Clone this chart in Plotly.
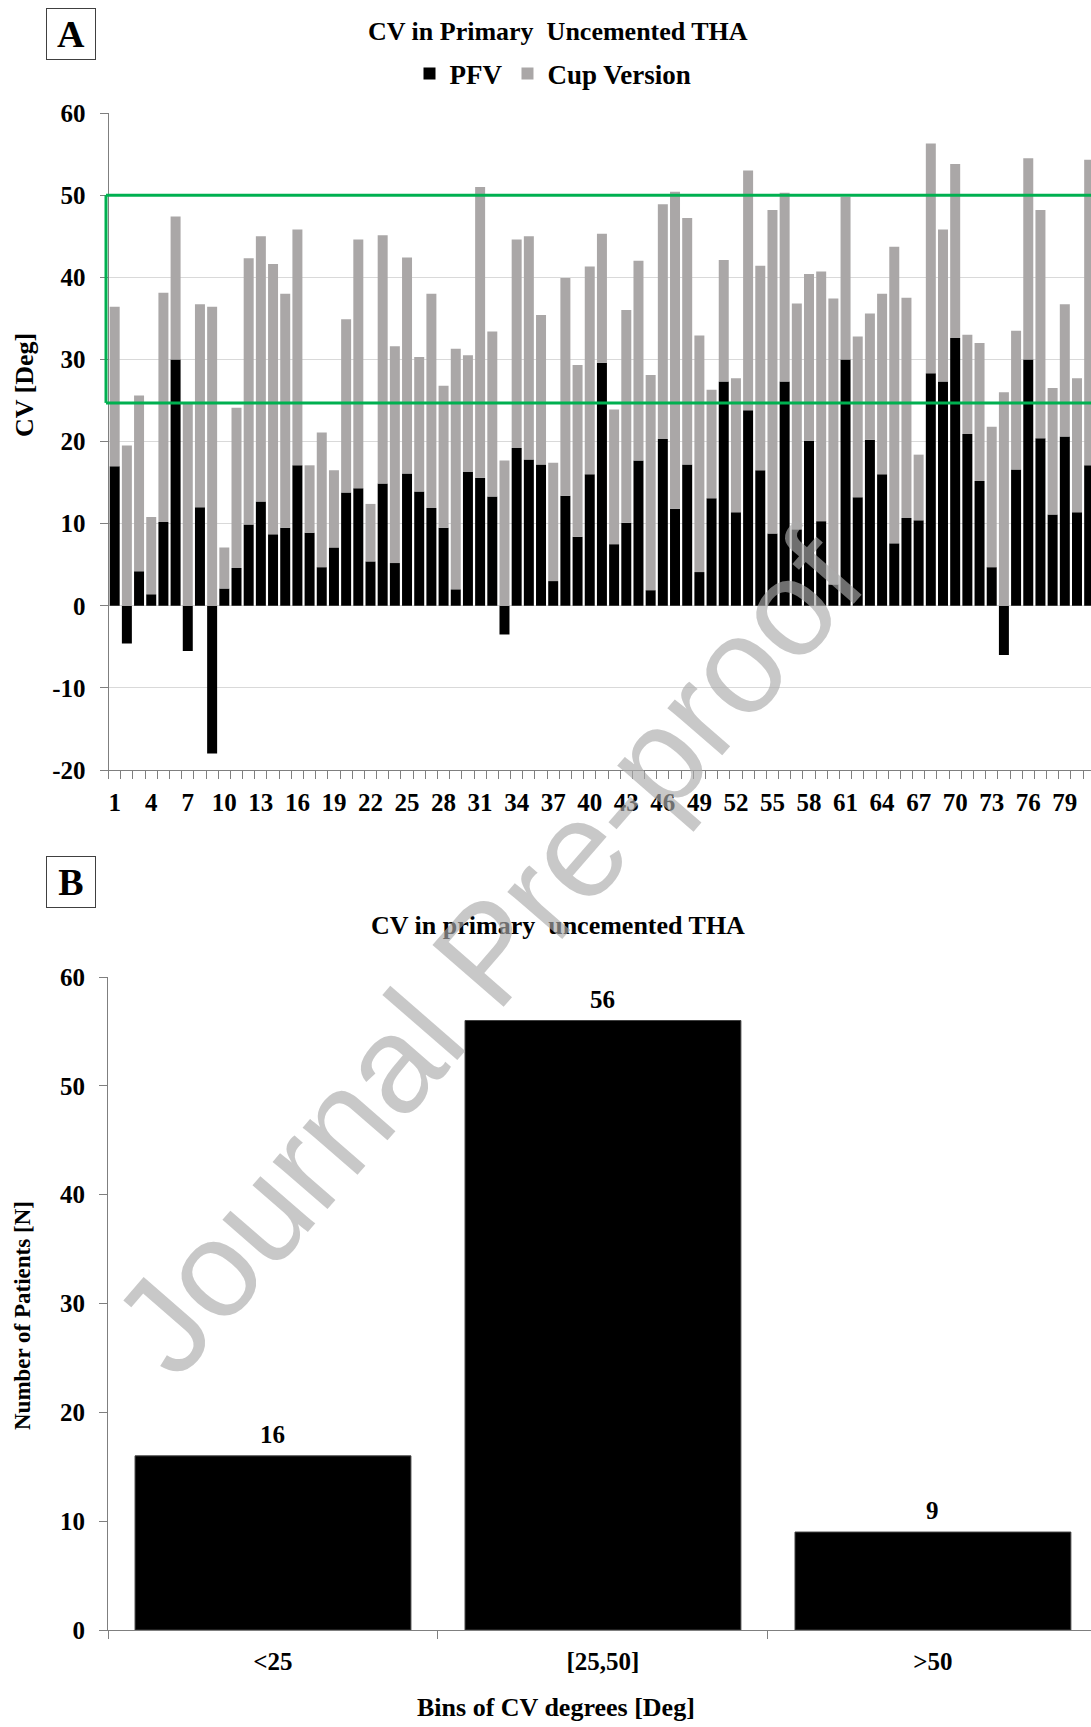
import plotly.graph_objects as go

# ---------------- data ----------------
patients = list(range(1, 82))
pfv = [17.0, -4.6, 4.2, 1.4, 10.2, 30.0, -5.5, 12.0, -18.0, 2.1,
       4.6, 9.9, 12.7, 8.7, 9.5, 17.1, 8.9, 4.7, 7.1, 13.8,
       14.3, 5.4, 14.9, 5.2, 16.1, 13.9, 11.9, 9.5, 2.0, 16.3,
       15.6, 13.3, -3.5, 19.2, 17.8, 17.2, 3.0, 13.4, 8.4, 16.0,
       29.6, 7.5, 10.1, 17.7, 1.9, 20.3, 11.8, 17.2, 4.1, 13.1,
       27.3, 11.4, 23.8, 16.5, 8.8, 27.3, 9.3, 20.1, 10.3, 2.6,
       30.0, 13.2, 20.2, 16.0, 7.6, 10.7, 10.4, 28.3, 27.3, 32.6,
       20.9, 15.2, 4.7, -6.0, 16.6, 30.0, 20.4, 11.1, 20.6, 11.4,
       17.1]
cup = [19.4, 19.5, 21.4, 9.4, 27.9, 17.4, 24.8, 24.7, 36.4, 5.0,
       19.5, 32.4, 32.3, 32.9, 28.5, 28.7, 8.2, 16.4, 9.4, 21.1,
       30.3, 7.0, 30.2, 26.4, 26.3, 16.4, 26.1, 17.3, 29.3, 14.2,
       35.4, 20.1, 17.7, 25.4, 27.2, 18.2, 14.4, 26.5, 20.9, 25.3,
       15.7, 16.4, 25.9, 24.3, 26.2, 28.6, 38.6, 30.0, 28.8, 13.2,
       14.8, 16.3, 29.2, 24.9, 39.4, 23.0, 27.5, 20.3, 30.4, 34.8,
       19.8, 19.6, 15.4, 22.0, 36.1, 26.8, 8.0, 28.0, 18.5, 21.2,
       12.1, 16.8, 17.1, 26.0, 16.9, 24.5, 27.8, 15.4, 16.1, 16.3,
       37.2]
x_tick_labels = list(range(1, 82, 3))
y_ticks_a = [-20, -10, 0, 10, 20, 30, 40, 50, 60]
y_ticks_a_text = ["-20", "-10", "0", "10", "20", "30", "40", "50", "60"]
target_low, target_high = 24.7, 50.0

bins = ["<25", "[25,50]", ">50"]
counts = [16, 56, 9]

# ---------------- layout helpers ----------------
W, H = 1091, 1727
def py(v):
    return 1 - v / H
def px(v):
    return v / W

SERIF = "Liberation Serif"
AXC = "#7f7f7f"
bold = dict(family=SERIF, color="black", weight="bold")
TICK = 25

fig = go.Figure()
fig.add_trace(go.Bar(x=patients, y=pfv, name="PFV",
                     marker=dict(color="#000000", line=dict(width=0)),
                     xaxis="x", yaxis="y"))
fig.add_trace(go.Bar(x=patients, y=cup, name="Cup Version",
                     marker=dict(color="#aaa7a7", line=dict(width=0)),
                     xaxis="x", yaxis="y"))
fig.add_trace(go.Bar(x=bins, y=counts,
                     width=0.836, showlegend=False,
                     marker=dict(color="#000000", line=dict(width=1, color="#404040")),
                     xaxis="x2", yaxis="y2"))

fig.update_layout(
    width=W, height=H,
    margin=dict(l=0, r=0, t=0, b=0, autoexpand=False),
    paper_bgcolor="white", plot_bgcolor="white",
    barmode="relative", bargap=0.18,
    font=dict(family=SERIF, size=24, color="black", weight="bold"),
    showlegend=True,
    legend=dict(orientation="h", x=px(553), xanchor="center", y=py(74), yanchor="middle",
                font=dict(size=27, **bold), traceorder="normal", itemwidth=30,
                bgcolor="rgba(0,0,0,0)"),
    xaxis=dict(domain=[px(108.6), 1], range=[0.5, 81.15], anchor="y", automargin=False,
               tickmode="array", tickvals=x_tick_labels, ticks="",
               showgrid=False, zeroline=False, showline=True, linecolor=AXC, linewidth=1,
               tickfont=dict(size=TICK, **bold), ticklabelstandoff=10,
               minor=dict(tickvals=[i + 0.5 for i in range(0, 82)], ticks="outside",
                          ticklen=8, tickcolor=AXC, tickwidth=1, showgrid=False)),
    yaxis=dict(domain=[py(770), py(113)], range=[-20, 60], anchor="x",
               tickmode="array", tickvals=y_ticks_a, ticktext=y_ticks_a_text,
               automargin=False,
               showgrid=True, gridcolor="#d9d9d9", gridwidth=1,
               zeroline=True, zerolinecolor="#d9d9d9", zerolinewidth=1,
               showline=True, linecolor=AXC, linewidth=1,
               ticks="outside", ticklen=8, tickcolor=AXC,
               tickfont=dict(size=TICK, **bold), ticklabelstandoff=9),
    xaxis2=dict(domain=[px(108), 1], type="category", range=[-0.5, 2.479], anchor="y2",
                automargin=False,
                ticks="outside", tickson="boundaries", ticklen=8, tickcolor=AXC,
                showgrid=False, showline=True, linecolor=AXC, linewidth=1,
                tickfont=dict(size=TICK, **bold), ticklabelstandoff=9),
    yaxis2=dict(domain=[py(1630), py(977)], range=[0, 60], dtick=10, anchor="x2",
                automargin=False,
                showgrid=False, zeroline=False, showline=True, linecolor=AXC, linewidth=1,
                ticks="outside", ticklen=8, tickcolor=AXC,
                tickfont=dict(size=TICK, **bold), ticklabelstandoff=9),
)

# green target band outline (25-50 deg)
GREEN = "#00b050"
for y0, y1, x0, x1 in [(target_low, target_low, px(106), 1),
                       (target_high, target_high, px(106), 1),
                       (target_low, target_high, px(106), px(106))]:
    fig.add_shape(type="line", xref="paper", yref="y", x0=x0, x1=x1, y0=y0, y1=y1,
                  line=dict(color=GREEN, width=3))

ann = []
# value labels above histogram bars
for b, c in zip(bins, counts):
    ann.append(dict(text=str(c), x=b, y=c, xref="x2", yref="y2", yanchor="bottom",
                    yshift=6, font=dict(size=25, **bold)))
ann.append(dict(text="CV in Primary&nbsp; Uncemented THA", x=px(558), y=py(31),
                font=dict(size=26, **bold)))
ann.append(dict(text="CV in primary&nbsp; uncemented THA", x=px(558), y=py(926),
                font=dict(size=26, **bold)))
ann.append(dict(text="CV [Deg]", x=px(25), y=py(385), textangle=-90,
                font=dict(size=26, **bold)))
ann.append(dict(text="Number of Patients [N]", x=px(22), y=py(1316), textangle=-90,
                font=dict(size=23, **bold)))
ann.append(dict(text="Bins of CV degrees [Deg]", x=px(556), y=py(1707),
                font=dict(size=26, **bold)))
for lab, cx, cy in [("A", 71, 34), ("B", 70.5, 881.5)]:
    ann.append(dict(text=lab, x=px(cx), y=py(cy), width=48, height=50,
                    bordercolor="#404040", borderwidth=1, borderpad=0,
                    bgcolor="white", font=dict(size=38, **bold)))
ann.append(dict(text="Journal Pre-proof", x=px(488), y=py(953), textangle=-49,
                font=dict(family="Liberation Sans", size=137, weight="normal",
                          color="rgba(171,171,171,0.65)")))

for a in ann:
    a.setdefault("xref", "paper")
    a.setdefault("yref", "paper")
    a.setdefault("showarrow", False)
    a.setdefault("xanchor", "center")
    a.setdefault("yanchor", "middle")
    fig.add_annotation(**a)

page_fix = ("document.documentElement.style.margin='0';"
            "document.documentElement.style.overflow='hidden';"
            "document.body.style.margin='0';"
            "document.body.style.overflow='hidden';")
fig.write_html("out.html", default_width=f"{W}px", default_height=f"{H}px",
               post_script=page_fix, config={"displayModeBar": False})
